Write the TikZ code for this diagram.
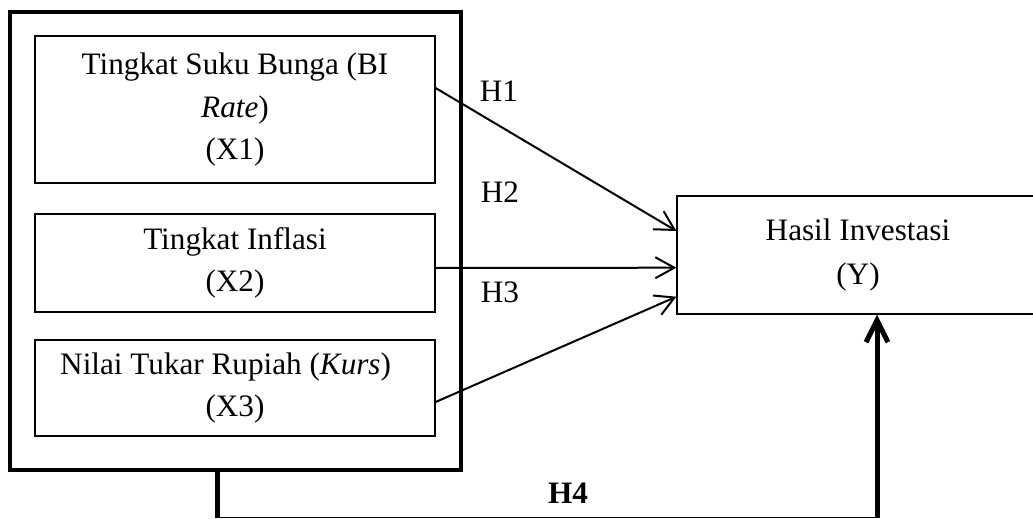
\documentclass[tikz,border=0pt]{standalone}
\usepackage{fontspec}
\setmainfont{Liberation Serif}
\usepackage{tikz}
\usetikzlibrary{arrows.meta}

\begin{document}
\begin{tikzpicture}[x=0.5pt,y=-0.5pt,
  font=\fontsize{15.6}{21.25}\selectfont,
  varbox/.style={draw,line width=0.6pt,align=center,inner sep=0pt,minimum width=200pt},
  arr/.style={line width=1pt,-{Straight Barb[length=9.5pt,width=10.5pt]}},
  hlabel/.style={inner sep=0pt}]
\useasboundingbox (0,0) rectangle (1033,519);
\node [draw,line width=2pt,minimum width=225.5pt,minimum height=229pt] (outer) at (235.5,241) {};
\node [varbox,minimum height=73.5pt] (x1) at (235,109.5) {Tingkat Suku Bunga (BI\\\textit{Rate})\\(X1)};
\node [varbox,minimum height=49pt] (x2) at (235,263) {Tingkat Inflasi\\(X2)};
\node [varbox,minimum height=48pt] (x3) at (235,388) {Nilai Tukar Rupiah (\textit{Kurs})\hspace*{0.6em}\\(X3)};
\node [varbox,minimum width=181pt,minimum height=59pt] (hasil) at (858,255) {Hasil Investasi\\[0.75pt](Y)};
\draw [arr] ([yshift=10.75pt]x1.east) -- ([yshift=12pt]hasil.west);
\draw [arr] ([yshift=-2.5pt]x2.east) -- ([yshift=-6.35pt]hasil.west);
\draw [arr] ([yshift=-7pt]x3.east) -- ([yshift=-20.85pt]hasil.west);
\node [hlabel] (h1) at (499,91) {H1};
\node [hlabel] (h2) at (500,192) {H2};
\node [hlabel] (h3) at (500,292) {H3};
\node [hlabel] (h4) at (568,493) {\bfseries H4};
\coordinate (h4a) at (217,517.5);
\coordinate (h4b) at (877,517.5);
\draw [line width=2.5pt] (outer.south -| h4a) -- (h4a);
\draw [line width=0.6pt] (h4a) -- (h4b);
\draw [line width=2.5pt,-{Straight Barb[length=11pt,width=11pt]}] (h4b) -- (hasil.south -| h4b);

\end{tikzpicture}
\end{document}
